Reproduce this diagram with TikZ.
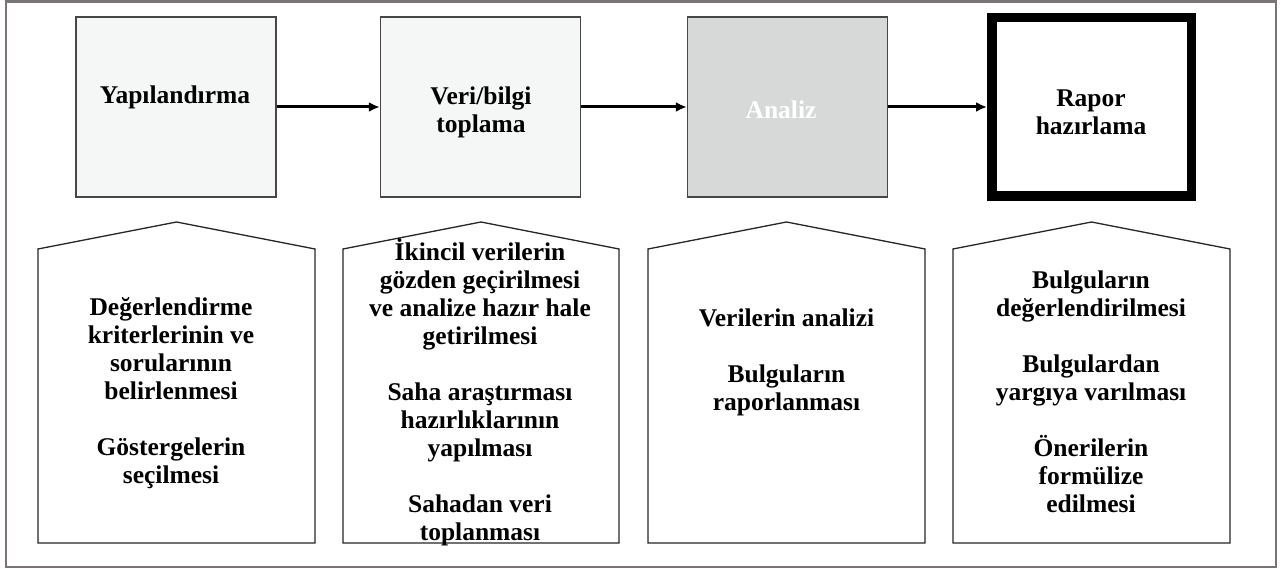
\documentclass[tikz,border=0pt]{standalone}
\usepackage{fontspec}
\setmainfont{Liberation Serif}
\usetikzlibrary{arrows.meta}
\definecolor{framegray}{RGB}{122,116,118}
\definecolor{boxline}{RGB}{70,70,70}
\definecolor{lightfill}{RGB}{245,247,246}
\definecolor{midfill}{RGB}{215,216,216}
\begin{document}
\begin{tikzpicture}[x=1pt,y=-1pt,
  box/.style={draw=boxline, line width=1.4pt, minimum width=200pt, minimum height=180pt, inner sep=0pt},
  finalbox/.style={draw=black, fill=white, line width=9.5pt, minimum width=199.5pt, minimum height=178.5pt, inner sep=0pt},
  txt/.style={font=\bfseries\fontsize{25.5}{28}\selectfont, align=center, inner sep=0pt, text=black},
  flow/.style={line width=3pt, -{Latex[length=11pt,width=10pt]}},
  pent/.style={draw=black!85, line width=1.3pt, fill=white, line join=miter}]
\useasboundingbox (0,0) rectangle (1283,569);
\fill[white] (0,0) rectangle (1283,569);
% outer frame
\draw[framegray, line width=2.4pt] (6,1.5) rectangle (1276,567);

% top process boxes
\node[box, fill=lightfill] (b1) at (176,107) {};
\node[box, fill=lightfill] (b2) at (480.5,107) {};
\node[box, fill=midfill] (b3) at (787.5,107) {};
\node[finalbox] (b4) at (1091.5,107) {};

\node[txt] (t1) at (175,97) {Yapılandırma};
\node[txt] (t2) at (481,112.5) {Veri/bilgi\\toplama};
\node[txt, text=white] (t3) at (781,110) {Analiz};
\node[txt] (t4) at (1091,112.5) {Rapor\\hazırlama};

\draw[flow] (b1.east) -- (b2.west);
\draw[flow] (b2.east) -- (b3.west);
\draw[flow] (b3.east) -- (b4.west);

% pentagons
\draw[pent] (38,543) -- (38,249) -- (176.5,222) -- (315,249) -- (315,543) -- cycle;
\draw[pent] (343,543) -- (343,249) -- (481,222) -- (619,249) -- (619,543) -- cycle;
\draw[pent] (648,543) -- (648,249) -- (786.5,222) -- (925,249) -- (925,543) -- cycle;
\draw[pent] (953,543) -- (953,249) -- (1091.5,222) -- (1230,249) -- (1230,543) -- cycle;

\node[txt] (p1) at (171,393.5) {Değerlendirme\\kriterlerinin ve\\sorularının\\belirlenmesi\\[28pt]Göstergelerin\\seçilmesi};
\node[txt] (p2) at (480,392) {İkincil verilerin\\gözden geçirilmesi\\ve analize hazır hale\\getirilmesi\\[28pt]Saha araştırması\\hazırlıklarının\\yapılması\\[28pt]Sahadan veri\\toplanması};
\node[txt] (p3) at (786.5,362.5) {Verilerin analizi\\[28pt]Bulguların\\raporlanması};
\node[txt] (p4) at (1091,391.5) {Bulguların\\değerlendirilmesi\\[28pt]Bulgulardan\\yargıya varılması\\[28pt]Önerilerin\\formülize\\edilmesi};
\end{tikzpicture}
\end{document}
